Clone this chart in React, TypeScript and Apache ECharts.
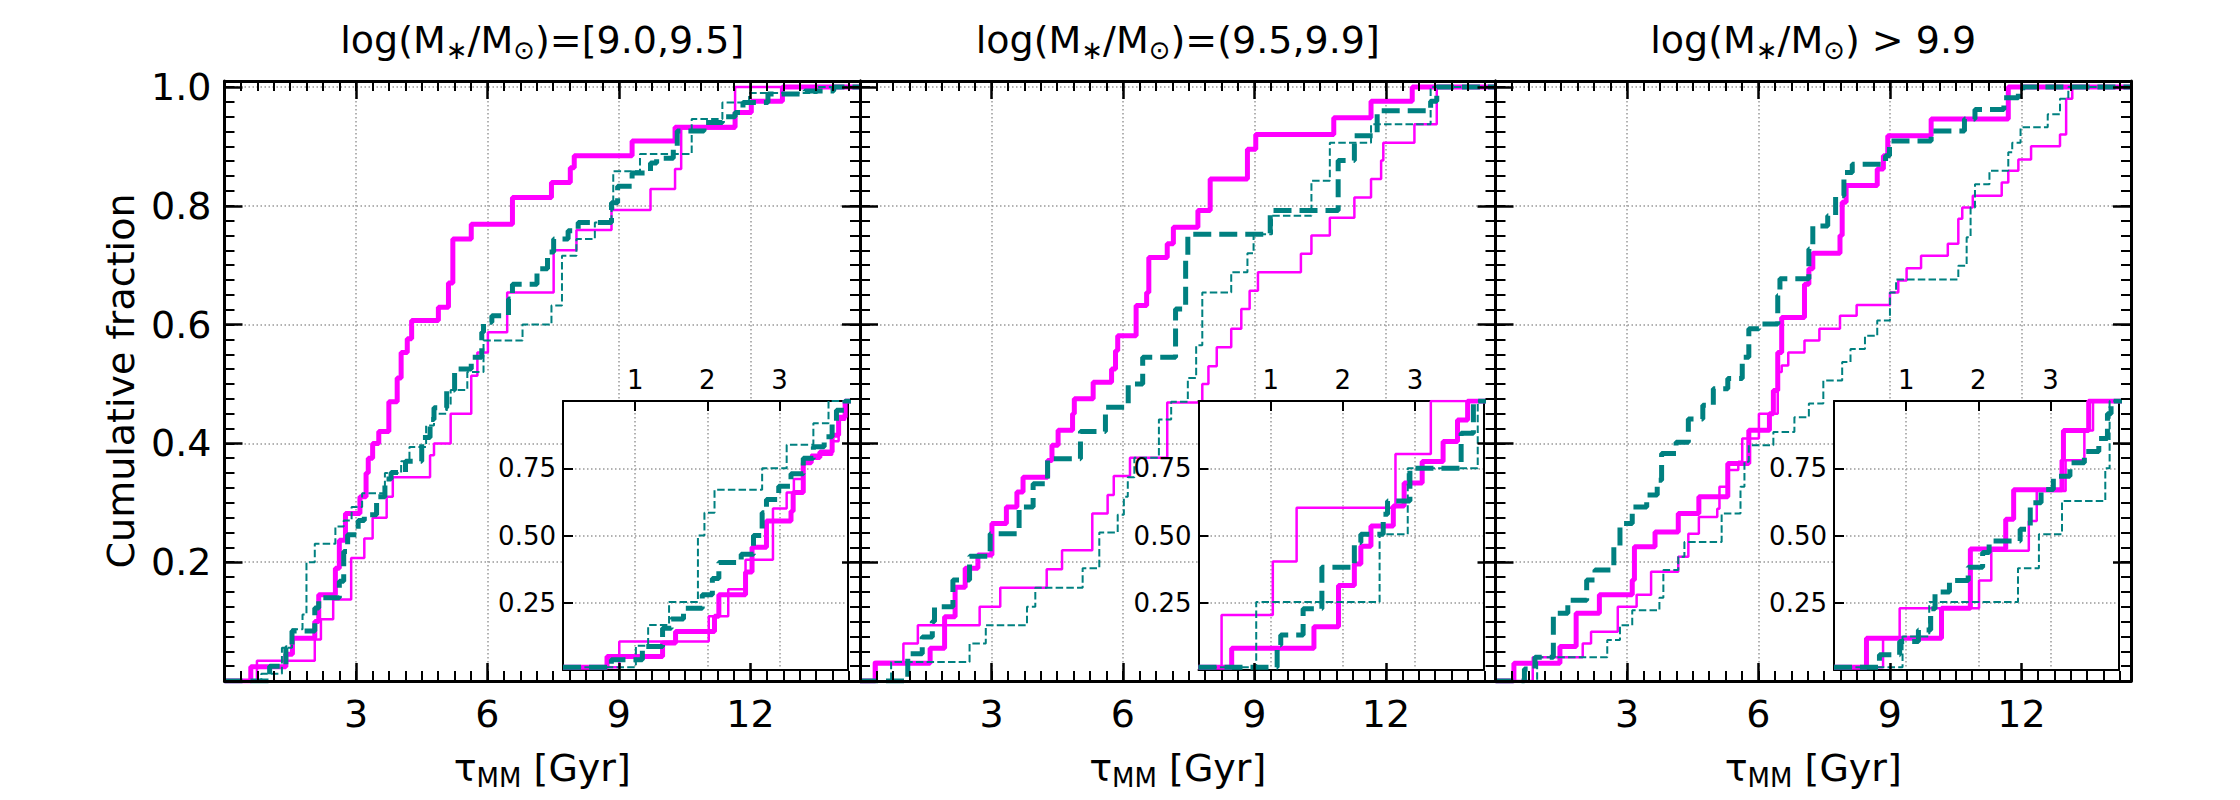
import React, { useEffect, useRef } from 'react';
import * as echarts from 'echarts';

// ---------------- DATA (step CDFs: [tau, cumulative fraction]) ----------------
const TITLES = ['=[9.0,9.5]', '=(9.5,9.9]', ' > 9.9'];
const X_TICKS = [3, 6, 9, 12];
const Y_TICKS = [0.2, 0.4, 0.6, 0.8, 1.0];
const INSET_X_TICKS = [1, 2, 3];
const INSET_Y_TICKS = [0.25, 0.5, 0.75];

// Panel 1 main
const p1ThickMag = [[0,0],[0.6,0.024],[1.4,0.045],[1.55,0.072],[2.06,0.10],[2.15,0.145],[2.53,0.19],[2.62,0.237],[2.76,0.282],[3.09,0.31],[3.23,0.35],[3.28,0.375],[3.38,0.40],[3.52,0.42],[3.75,0.47],[3.94,0.51],[4.03,0.553],[4.17,0.576],[4.27,0.607],[4.88,0.629],[5.11,0.67],[5.21,0.744],[5.63,0.769],[6.57,0.814],[7.46,0.839],[7.89,0.864],[7.98,0.884],[9.30,0.909],[10.28,0.932],[11.65,0.957],[12.02,0.976],[12.73,1.0],[14.5,1.0]];
const p1ThinMag = [[0,0],[0.74,0.034],[2.06,0.07],[2.2,0.104],[2.48,0.137],[2.89,0.207],[3.19,0.24],[3.38,0.275],[3.70,0.31],[3.84,0.343],[4.69,0.38],[4.78,0.40],[5.16,0.45],[5.63,0.514],[5.77,0.553],[6.01,0.587],[6.45,0.654],[7.51,0.725],[8.03,0.759],[8.83,0.793],[9.72,0.828],[10.28,0.862],[10.42,0.93],[11.65,1.0],[14.5,1.0]];
const p1ThickTeal = [[0,0],[1.03,0.025],[1.40,0.056],[1.54,0.084],[2.06,0.123],[2.15,0.14],[2.62,0.168],[2.72,0.218],[2.81,0.246],[3.05,0.27],[3.19,0.28],[3.47,0.31],[3.66,0.34],[3.80,0.351],[4.13,0.37],[4.50,0.41],[4.69,0.44],[4.78,0.46],[5.07,0.49],[5.25,0.525],[5.63,0.545],[5.87,0.587],[5.91,0.604],[6.10,0.615],[6.48,0.643],[6.57,0.668],[7.13,0.694],[7.37,0.722],[7.51,0.744],[7.84,0.758],[8.07,0.772],[8.83,0.805],[8.97,0.833],[9.30,0.855],[9.72,0.872],[9.86,0.88],[10.24,0.895],[10.33,0.926],[10.94,0.94],[11.36,0.95],[11.65,0.957],[11.83,0.974],[12.40,0.988],[13.24,0.993],[13.90,1.0],[14.5,1.0]];
const p1ThinTeal = [[0,0],[0.84,0.012],[1.31,0.056],[1.54,0.087],[1.78,0.112],[1.87,0.20],[2.06,0.231],[2.53,0.26],[2.72,0.27],[2.90,0.293],[3.14,0.316],[3.66,0.35],[4.03,0.37],[4.22,0.394],[4.60,0.43],[4.78,0.45],[5.07,0.466],[5.16,0.49],[5.54,0.52],[5.91,0.573],[6.80,0.60],[7.46,0.632],[7.70,0.716],[8.03,0.744],[8.45,0.772],[8.83,0.794],[8.87,0.858],[9.48,0.887],[10.66,0.946],[11.36,0.974],[11.97,0.99],[13.52,1.0],[14.5,1.0]];
// Panel 1 inset
const p1iThickMag = [[0,0.01],[0.61,0.05],[1.38,0.10],[1.56,0.143],[2.10,0.2],[2.16,0.28],[2.53,0.364],[2.62,0.456],[2.82,0.554],[3.16,0.59],[3.19,0.66],[3.33,0.77],[3.44,0.79],[3.56,0.81],[3.73,0.873],[3.82,0.94],[3.91,1.0],[4,1]];
const p1iThinMag = [[0,0.01],[0.78,0.106],[2.02,0.2],[2.29,0.30],[2.53,0.41],[2.91,0.60],[3.10,0.66],[3.2,0.71],[3.33,0.78],[3.44,0.80],[3.73,0.85],[3.82,0.93],[3.91,1.0],[4,1]];
const p1iThickTeal = [[0,0.01],[0.67,0.038],[1.10,0.087],[1.38,0.155],[1.50,0.19],[1.67,0.23],[1.93,0.28],[2.07,0.34],[2.16,0.40],[2.47,0.43],[2.64,0.50],[2.76,0.585],[2.82,0.634],[2.99,0.683],[3.16,0.73],[3.33,0.787],[3.47,0.83],[3.62,0.867],[3.73,0.916],[3.79,0.966],[3.91,1.0],[4,1]];
const p1iThinTeal = [[0,0.01],[1.01,0.09],[1.18,0.167],[1.47,0.253],[1.87,0.50],[1.96,0.585],[2.10,0.67],[2.76,0.75],[3.10,0.837],[3.47,0.917],[3.68,1.0],[4,1]];

// Panel 2 main
const p2ThickMag = [[0,0],[0.35,0.03],[1.60,0.055],[1.93,0.108],[2.17,0.158],[2.40,0.19],[2.69,0.212],[3.01,0.265],[3.34,0.293],[3.58,0.318],[3.72,0.343],[4.28,0.371],[4.38,0.397],[4.52,0.422],[4.85,0.45],[4.89,0.475],[5.32,0.503],[5.74,0.525],[5.83,0.556],[5.88,0.581],[6.30,0.632],[6.54,0.654],[6.59,0.713],[7.01,0.736],[7.15,0.764],[7.71,0.792],[7.99,0.845],[8.84,0.895],[9.03,0.92],[10.81,0.948],[11.66,0.976],[12.60,1.0],[14.5,1.0]];
const p2ThinMag = [[0,0],[0.32,0.032],[0.99,0.063],[1.32,0.094],[2.73,0.125],[3.20,0.157],[4.26,0.188],[4.61,0.22],[5.30,0.282],[5.65,0.313],[5.79,0.345],[6.16,0.376],[7.01,0.469],[7.81,0.50],[7.95,0.53],[8.14,0.562],[8.47,0.593],[8.70,0.626],[8.89,0.657],[9.08,0.688],[10.06,0.719],[10.30,0.75],[10.72,0.78],[11.28,0.814],[11.66,0.845],[11.89,0.876],[11.94,0.906],[12.65,0.937],[13.16,1.0],[14.5,1.0]];
const p2ThickTeal = [[0,0],[1.09,0.046],[1.42,0.074],[1.65,0.10],[1.70,0.125],[2.12,0.17],[2.50,0.21],[2.97,0.248],[3.63,0.293],[3.95,0.332],[4.28,0.374],[5.03,0.42],[5.60,0.461],[6.12,0.50],[6.45,0.545],[7.20,0.626],[7.43,0.716],[7.48,0.752],[9.36,0.792],[10.91,0.876],[11.28,0.918],[11.80,0.96],[13.02,0.976],[13.16,1.0],[14.5,1.0]];
const p2ThinTeal = [[0,0],[0.71,0.032],[2.50,0.063],[2.87,0.094],[3.81,0.125],[4.00,0.157],[5.08,0.19],[5.46,0.25],[5.88,0.28],[6.02,0.31],[6.11,0.343],[6.26,0.376],[6.82,0.44],[7.10,0.47],[7.48,0.51],[7.67,0.565],[7.81,0.654],[8.47,0.688],[8.84,0.72],[8.98,0.752],[9.40,0.783],[10.30,0.842],[10.72,0.906],[11.66,0.937],[13.02,1.0],[14.5,1.0]];
// Panel 2 inset
const p2iThickMag = [[0,0.01],[0.46,0.081],[1.60,0.161],[1.94,0.314],[2.16,0.394],[2.25,0.46],[2.39,0.535],[2.70,0.61],[2.85,0.695],[3.10,0.775],[3.39,0.849],[3.59,0.929],[3.73,1.0],[4,1]];
const p2iThinMag = [[0,0.01],[0.32,0.204],[1.03,0.403],[1.36,0.603],[2.73,0.803],[3.22,1.0],[4,1]];
const p2iThickTeal = [[0,0.01],[1.09,0.093],[1.14,0.13],[1.45,0.228],[1.71,0.382],[2.16,0.474],[2.25,0.505],[2.56,0.579],[2.62,0.628],[2.93,0.75],[3.64,0.88],[3.81,1.0],[4,1]];
const p2iThinTeal = [[0,0.01],[0.80,0.253],[2.51,0.505],[2.90,0.75],[3.87,1.0],[4,1]];

// Panel 3 main
const p3ThickMag = [[0,0],[0.42,0.03],[1.47,0.058],[1.84,0.114],[2.37,0.145],[3.12,0.17],[3.17,0.226],[3.64,0.251],[4.17,0.282],[4.64,0.31],[5.30,0.366],[5.78,0.422],[6.25,0.45],[6.34,0.489],[6.44,0.553],[6.53,0.612],[7.05,0.668],[7.15,0.694],[7.24,0.72],[7.86,0.75],[7.91,0.806],[8.00,0.834],[8.71,0.862],[8.85,0.884],[8.95,0.918],[9.94,0.946],[11.70,1.0],[14.5,1.0]];
const p3ThinMag = [[0,0],[0.85,0.04],[1.99,0.063],[2.18,0.083],[2.79,0.125],[3.22,0.145],[3.55,0.184],[4.17,0.209],[4.40,0.248],[4.64,0.276],[5.06,0.29],[5.11,0.327],[5.30,0.355],[5.54,0.369],[5.63,0.408],[6.01,0.45],[6.44,0.52],[6.53,0.531],[6.68,0.553],[7.05,0.573],[7.39,0.593],[7.86,0.615],[8.24,0.633],[9.00,0.654],[9.19,0.674],[9.38,0.695],[9.71,0.716],[10.32,0.736],[10.56,0.778],[10.65,0.797],[10.89,0.817],[11.55,0.839],[11.70,0.859],[11.93,0.878],[12.22,0.90],[12.88,0.92],[13.02,0.98],[13.16,1.0],[14.5,1.0]];
const p3ThickTeal = [[0,0],[0.66,0.02],[0.90,0.04],[1.32,0.114],[1.65,0.136],[2.08,0.17],[2.27,0.187],[2.70,0.226],[2.84,0.265],[3.12,0.293],[3.45,0.313],[3.69,0.338],[3.79,0.383],[4.12,0.402],[4.40,0.441],[4.73,0.464],[4.97,0.492],[5.30,0.509],[5.63,0.545],[5.78,0.593],[6.01,0.601],[6.44,0.649],[6.49,0.677],[7.15,0.727],[7.24,0.766],[7.58,0.783],[7.76,0.817],[7.95,0.856],[8.14,0.87],[8.90,0.884],[8.99,0.909],[9.94,0.926],[10.70,0.946],[10.94,0.962],[11.60,0.982],[11.93,0.993],[12.03,1.0],[14.5,1.0]];
const p3ThinTeal = [[0,0],[0.95,0.04],[2.55,0.069],[2.84,0.094],[3.12,0.119],[3.74,0.14],[3.83,0.187],[4.17,0.209],[4.31,0.234],[5.16,0.282],[5.59,0.327],[5.68,0.369],[5.78,0.397],[6.34,0.419],[6.82,0.444],[7.15,0.467],[7.48,0.506],[7.91,0.537],[8.10,0.559],[8.43,0.581],[8.71,0.607],[9.00,0.654],[9.14,0.676],[10.56,0.699],[10.75,0.747],[10.84,0.797],[10.94,0.836],[11.27,0.859],[11.70,0.89],[11.79,0.906],[11.98,0.932],[12.60,0.954],[12.88,0.98],[13.07,1.0],[14.5,1.0]];
// Panel 3 inset
const p3iThickMag = [[0,0.01],[0.45,0.118],[1.49,0.23],[1.89,0.45],[2.38,0.56],[2.49,0.67],[3.16,0.78],[3.18,0.89],[3.53,1.0],[4,1]];
const p3iThinMag = [[0,0.01],[0.68,0.118],[0.91,0.23],[2.01,0.333],[2.18,0.443],[2.70,0.554],[2.81,0.665],[3.21,0.78],[3.47,0.89],[3.59,1.0],[4,1]];
const p3iThickTeal = [[0,0.01],[0.63,0.057],[0.91,0.106],[1.17,0.149],[1.34,0.228],[1.40,0.29],[1.60,0.333],[1.86,0.382],[2.06,0.437],[2.15,0.48],[2.58,0.523],[2.72,0.622],[2.87,0.671],[3.04,0.72],[3.27,0.77],[3.47,0.812],[3.67,0.861],[3.79,0.953],[3.84,1.0],[4,1]];
const p3iThinTeal = [[0,0.01],[0.95,0.125],[1.32,0.253],[2.55,0.378],[2.84,0.505],[3.16,0.628],[3.76,0.75],[3.82,1.0],[4,1]];

const PANEL_MAIN = [
  [p1ThickMag, p1ThinMag, p1ThickTeal, p1ThinTeal],
  [p2ThickMag, p2ThinMag, p2ThickTeal, p2ThinTeal],
  [p3ThickMag, p3ThinMag, p3ThickTeal, p3ThinTeal],
];
const PANEL_INSET = [
  [p1iThickMag, p1iThinMag, p1iThickTeal, p1iThinTeal],
  [p2iThickMag, p2iThinMag, p2iThickTeal, p2iThinTeal],
  [p3iThickMag, p3iThinMag, p3iThickTeal, p3iThinTeal],
];

// ---------------- LAYOUT / STYLE ----------------
const FONT = 'DejaVu Sans';
const MAGENTA = '#ff00ff';
const TEAL = '#008080';
const PANEL_LEFT = [224.5, 860, 1495.5];
const PANEL_TOP = 81;
const PANEL_W = 635.5;
const PANEL_H = 600;
const X_MAX = 14.5;
const Y_MAX = 1.01;
const INSET_DX = 338.5;
const INSET_TOP = 401;
const INSET_W = 285;
const INSET_H = 269;
const INSET_X_MAX = 3.95;

const LINE_STYLES = [
  { color: MAGENTA, width: 5, type: 'solid' },
  { color: MAGENTA, width: 2.5, type: 'solid' },
  { color: TEAL, width: 5, type: [18, 8] },
  { color: TEAL, width: 2, type: [7.5, 3.2] },
];

const GRID_LINE = { color: '#999999', width: 1.5, type: [1.5, 2.5] };
const BLACK = '#000000';

const near = (v: number, list: number[]) => list.some((t) => Math.abs(t - v) < 1e-6);

function buildOption() {
  const grid: any[] = [];
  const xAxis: any[] = [];
  const yAxis: any[] = [];
  const series: any[] = [];
  const graphic: any[] = [];

  const hidden = { show: false };

  for (let i = 0; i < 3; i++) {
    const left = PANEL_LEFT[i];
    // ---- main grid
    const gi = grid.length;
    grid.push({ left, top: PANEL_TOP, width: PANEL_W, height: PANEL_H, containLabel: false, z: 0 });
    const bx = { type: 'value', gridIndex: gi, min: 0, max: X_MAX };
    const by = { type: 'value', gridIndex: gi, min: 0, max: Y_MAX };

    const xGridIdx = xAxis.length;
    xAxis.push({ ...bx, position: 'bottom', interval: 3, z: 1, axisLine: { show: false, onZero: false }, axisTick: hidden, axisLabel: hidden, splitLine: { show: true, lineStyle: GRID_LINE } });
    for (const pos of ['bottom', 'top']) {
      xAxis.push({
        ...bx, position: pos, interval: 3, z: 10,
        axisLine: { show: true, onZero: false, lineStyle: { color: BLACK, width: 3 } },
        axisTick: { show: true, inside: true, length: 18, lineStyle: { color: BLACK, width: 2.5 } },
        axisLabel: pos === 'bottom'
          ? { show: true, margin: 14, fontSize: 38, fontFamily: FONT, color: BLACK, formatter: (v: number) => (near(v, X_TICKS) ? String(v) : '') }
          : hidden,
        splitLine: hidden,
      });
      xAxis.push({
        ...bx, position: pos, interval: 0.375, z: 10,
        axisLine: { show: false, onZero: false },
        axisTick: { show: true, inside: true, length: 10, lineStyle: { color: BLACK, width: 2 } },
        axisLabel: hidden, splitLine: hidden,
      });
    }

    const yGridIdx = yAxis.length;
    yAxis.push({ ...by, position: 'left', interval: 0.2, z: 1, axisLine: { show: false, onZero: false }, axisTick: hidden, axisLabel: hidden, splitLine: { show: true, lineStyle: GRID_LINE } });
    for (const pos of ['left', 'right']) {
      yAxis.push({
        ...by, position: pos, interval: 0.2, z: 10,
        axisLine: { show: true, onZero: false, lineStyle: { color: BLACK, width: 3 } },
        axisTick: { show: true, inside: true, length: 18, lineStyle: { color: BLACK, width: 2.5 } },
        axisLabel: pos === 'left' && i === 0
          ? { show: true, margin: 13, fontSize: 38, fontFamily: FONT, color: BLACK, formatter: (v: number) => (near(v, Y_TICKS) ? v.toFixed(1) : '') }
          : hidden,
        splitLine: hidden,
      });
      yAxis.push({
        ...by, position: pos, interval: 0.025, z: 10,
        axisLine: { show: false, onZero: false },
        axisTick: { show: true, inside: true, length: 10, lineStyle: { color: BLACK, width: 2 } },
        axisLabel: hidden, splitLine: hidden,
      });
    }

    PANEL_MAIN[i].forEach((data, k) => {
      series.push({
        type: 'line', step: 'end', data, xAxisIndex: xGridIdx, yAxisIndex: yGridIdx,
        showSymbol: false, symbol: 'none', silent: true, z: 2 + k * 0.01, clip: true,
        lineStyle: { ...LINE_STYLES[k] },
      });
    });

    // ---- inset grid
    const ii = grid.length;
    grid.push({ left: left + INSET_DX, top: INSET_TOP, width: INSET_W, height: INSET_H, containLabel: false, show: true, backgroundColor: '#ffffff', borderWidth: 0, z: 5 });
    const ix = { type: 'value', gridIndex: ii, min: 0, max: INSET_X_MAX, interval: 1 };
    const iy = { type: 'value', gridIndex: ii, min: 0, max: 1, interval: 0.25 };
    const ixIdx = xAxis.length;
    xAxis.push({ ...ix, position: 'bottom', z: 6, axisLine: { show: true, onZero: false, lineStyle: { color: BLACK, width: 2 } }, axisTick: hidden, axisLabel: hidden, splitLine: { show: true, lineStyle: GRID_LINE } });
    xAxis.push({
      ...ix, position: 'top', z: 6,
      axisLine: { show: true, onZero: false, lineStyle: { color: BLACK, width: 2 } },
      axisTick: { show: true, inside: true, length: 10, lineStyle: { color: BLACK, width: 2 } },
      axisLabel: { show: true, margin: 8, fontSize: 26, fontFamily: FONT, color: BLACK, formatter: (v: number) => (near(v, INSET_X_TICKS) ? String(v) : '') },
      splitLine: hidden,
    });
    const iyIdx = yAxis.length;
    yAxis.push({
      ...iy, position: 'left', z: 6,
      axisLine: { show: true, onZero: false, lineStyle: { color: BLACK, width: 2 } },
      axisTick: { show: true, inside: true, length: 10, lineStyle: { color: BLACK, width: 2 } },
      axisLabel: { show: true, margin: 7, fontSize: 26, fontFamily: FONT, color: BLACK, formatter: (v: number) => (near(v, INSET_Y_TICKS) ? v.toFixed(2) : '') },
      splitLine: { show: true, lineStyle: GRID_LINE },
    });
    yAxis.push({ ...iy, position: 'right', z: 6, axisLine: { show: true, onZero: false, lineStyle: { color: BLACK, width: 2 } }, axisTick: hidden, axisLabel: hidden, splitLine: hidden });

    PANEL_INSET[i].forEach((data, k) => {
      series.push({
        type: 'line', step: 'end', data, xAxisIndex: ixIdx, yAxisIndex: iyIdx,
        showSymbol: false, symbol: 'none', silent: true, z: 7 + k * 0.01, clip: true,
        lineStyle: { ...LINE_STYLES[k] },
      });
    });

    // ---- texts
    const cx = left + PANEL_W / 2;
    const rich = {
      n: { fontSize: 38, fontFamily: FONT, lineHeight: 46, fill: BLACK, color: BLACK },
      s: { fontSize: 26, fontFamily: FONT, lineHeight: 26, verticalAlign: 'bottom', fill: BLACK, color: BLACK },
    };
    graphic.push({
      type: 'text', x: cx, y: 40, z: 100,
      style: { text: `{n|log(M}{s|∗}{n|/M}{s|⊙}{n|)${TITLES[i]}}`, rich, align: 'center', verticalAlign: 'middle', textAlign: 'center', textVerticalAlign: 'middle', fill: BLACK, fontFamily: FONT, fontSize: 38 },
    });
    graphic.push({
      type: 'text', x: cx, y: 768, z: 100,
      style: { text: '{n|τ}{s|MM}{n| [Gyr]}', rich, align: 'center', verticalAlign: 'middle', textAlign: 'center', textVerticalAlign: 'middle', fill: BLACK, fontFamily: FONT, fontSize: 38 },
    });
  }

  graphic.push({
    type: 'text', x: 121, y: 381, rotation: Math.PI / 2, z: 100,
    style: { text: 'Cumulative fraction', fontSize: 38, fontFamily: FONT, fill: BLACK, align: 'center', verticalAlign: 'middle', textAlign: 'center', textVerticalAlign: 'middle' },
  });

  return {
    animation: false,
    backgroundColor: '#ffffff',
    grid, xAxis, yAxis, series, graphic,
  };
}

export default function App() {
  const ref = useRef<HTMLDivElement>(null);
  useEffect(() => {
    document.body.style.margin = '0';
    const chart = echarts.init(ref.current as HTMLDivElement, null, { renderer: 'svg' });
    chart.setOption(buildOption() as any);
    return () => chart.dispose();
  }, []);
  return <div ref={ref} style={{ width: 2240, height: 800 }} />;
}
